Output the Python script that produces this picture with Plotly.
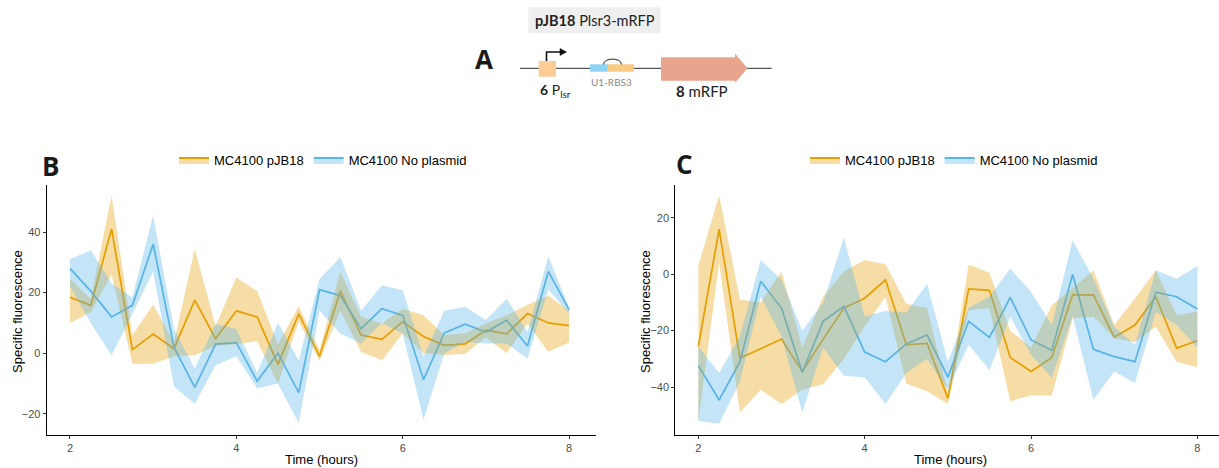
import plotly.graph_objects as go

# ---------------- data ----------------
time = [2.0, 2.25, 2.5, 2.75, 3.0, 3.25, 3.5, 3.75, 4.0, 4.25, 4.5, 4.75, 5.0,
        5.25, 5.5, 5.75, 6.0, 6.25, 6.5, 6.75, 7.0, 7.25, 7.5, 7.75, 8.0]

series_names = ["MC4100 pJB18", "MC4100 No plasmid"]

# Panel B
b_pjb18_mean = [18.5, 15.8, 41, 1.2, 6.3, 1.5, 17.5, 4.8, 14, 12, -3.7, 13, -1,
                20.5, 6, 4.6, 10.4, 5.5, 2.6, 3.1, 7.6, 6.4, 13.1, 10, 9.1]
b_pjb18_upper = [24.5, 18, 52, 6, 16, 3.5, 34.5, 9, 25, 20.5, 3, 15.5, 1,
                 27, 12, 9.8, 14.7, 12.5, 6, 6.5, 9.8, 12.5, 16, 19, 14]
b_pjb18_lower = [10, 13.5, 26, -3.5, -3.5, -1, -0.7, 2.5, 3, 4, -10, 10.5, -2.5,
                 14, 0.4, -2.3, 6.5, 0, -0.6, -0.2, 5.2, 0, 9.8, 0.5, 3.5]
b_nopl_mean = [28, 20.5, 12, 15.8, 36, 2, -11.3, 3, 3.5, -9.2, 0, -13, 21,
               19, 8.1, 14.7, 12.5, -8.7, 6.7, 9.6, 7, 10.9, 2.4, 27, 14.4]
b_nopl_upper = [31, 34, 23, 18.5, 45.5, 8, -5, 9.7, 8, -6.5, 10, -2.3, 24.5,
                31.8, 14, 22.4, 20.8, -1.2, 14, 15.3, 11, 18, 7, 32, 15]
b_nopl_lower = [22, 10, -0.7, 13, 27, -11, -16.7, -4, -1, -11.6, -10, -23, 14,
                6.5, 3.2, 10, 6.5, -22, 0, 3.7, 3.2, 3.2, -1.8, 21, 13]

# Panel C
c_pjb18_mean = [-25.6, 16, -29.8, -26.5, -23, -34.5, -23, -12, -8.5, -2, -25, -24.5, -44,
                -5.2, -5.7, -29.5, -34.5, -29.5, -7.3, -7.3, -22.3, -18, -8, -26.2, -23.6]
c_pjb18_upper = [3, 28, -9, -10, 1, -26, -8, 1, 5, 3.5, -10.5, -12, -42,
                 3.4, 0.5, -20, -26, -11, -5, 1.4, -18, -8.6, 1.4, -14.5, -13.3]
c_pjb18_lower = [-52, 4, -49, -41, -46, -41, -39, -30, -18.5, -8, -38.7, -41.5, -46,
                 -12.8, -12, -45, -43, -43, -15.7, -15, -22.7, -24, -18.6, -31, -33]
c_nopl_mean = [-32.4, -44.6, -31, -2.5, -12, -34.8, -16.7, -11.4, -27.6, -31, -24.7, -21.5, -36.5,
               -16.7, -22.4, -8.2, -23.3, -27, -0.1, -26.6, -29.2, -31, -6.4, -8, -12.3]
c_nopl_upper = [-25.6, -35, -22, 5, -2, -20, -10, 13, -15, -13, -13.6, -3.5, -31,
                -12, -8, 2, -6.3, -18, 12, -1.5, -18.6, -25, 1.4, -1.6, 2.9]
c_nopl_lower = [-52, -53, -38, -8, -22, -49, -26, -36, -36.5, -46, -35, -30, -41,
                -25, -34, -15, -28.6, -36.8, -15, -44.5, -34.5, -38.6, -13.3, -18, -26]

x_ticks = [2, 4, 6, 8]
b_y_ticks = [-20, 0, 20, 40]
c_y_ticks = [-40, -20, 0, 20]

# ---------------- style ----------------
W, H = 1219, 468
ORANGE = "#E69F00"
BLUE = "#56B4E9"
ORANGE_FILL = "rgba(230,159,0,0.35)"
BLUE_FILL = "rgba(86,180,233,0.35)"
FONT = "Liberation Sans, Arial, sans-serif"
DFONT = "Lato, Open Sans, sans-serif"


def px(x):
    return x / W


def py(y):
    return 1 - y / H


fig = go.Figure()

panels = [
    ("x", "y", "legend", [
        (b_pjb18_mean, b_pjb18_upper, b_pjb18_lower),
        (b_nopl_mean, b_nopl_upper, b_nopl_lower)]),
    ("x2", "y2", "legend2", [
        (c_pjb18_mean, c_pjb18_upper, c_pjb18_lower),
        (c_nopl_mean, c_nopl_upper, c_nopl_lower)]),
]
line_cols = [ORANGE, BLUE]
fill_cols = [ORANGE_FILL, BLUE_FILL]

for xa, ya, lg, groups in panels:
    # lines first
    for (mean, up, lo), lc in zip(groups, line_cols):
        fig.add_trace(go.Scatter(x=time, y=mean, mode="lines",
                                 line=dict(color=lc, width=1.7),
                                 xaxis=xa, yaxis=ya, showlegend=False,
                                 hoverinfo="skip"))
    # ribbons on top
    for (mean, up, lo), fc in zip(groups, fill_cols):
        fig.add_trace(go.Scatter(x=time + time[::-1], y=up + lo[::-1],
                                 mode="lines", fill="toself", fillcolor=fc,
                                 line=dict(width=0, color=fc),
                                 xaxis=xa, yaxis=ya, showlegend=False,
                                 hoverinfo="skip"))
    # legend entries
    for name, lc, fc in zip(series_names, line_cols, fill_cols):
        fig.add_trace(go.Scatter(x=[None], y=[None], mode="lines",
                                 fill="toself", fillcolor=fc,
                                 line=dict(color=lc, width=2),
                                 name=name, xaxis=xa, yaxis=ya,
                                 legend=lg, showlegend=True))

axis_common = dict(showline=True, linecolor="black", linewidth=1.1,
                   ticks="outside", ticklen=3, tickcolor="#333333", tickwidth=1,
                   showgrid=False, zeroline=False,
                   tickfont=dict(family=FONT, size=11, color="#4d4d4d"))

ydom = [py(435), py(184.5)]
fig.update_layout(
    width=W, height=H,
    margin=dict(l=0, r=0, t=0, b=0),
    paper_bgcolor="white", plot_bgcolor="white",
    showlegend=True,
    xaxis=dict(domain=[px(46.7), px(595.7)], range=[1.72, 8.32],
               tickvals=x_ticks, anchor="y", **axis_common),
    yaxis=dict(domain=ydom, range=[-27, 55.7], tickvals=b_y_ticks,
               anchor="x", **axis_common),
    xaxis2=dict(domain=[px(675.3), 1.0], range=[1.723, 8.26],
                tickvals=x_ticks, anchor="y2", **axis_common),
    yaxis2=dict(domain=ydom, range=[-57, 31.8], tickvals=c_y_ticks,
                anchor="x2", **axis_common),
    legend=dict(orientation="h", x=px(323), y=py(160), xanchor="center",
                yanchor="middle", font=dict(family=FONT, size=13, color="black"),
                bgcolor="rgba(0,0,0,0)", itemwidth=30, tracegroupgap=0),
    legend2=dict(orientation="h", x=px(954), y=py(160), xanchor="center",
                 yanchor="middle", font=dict(family=FONT, size=13, color="black"),
                 bgcolor="rgba(0,0,0,0)", itemwidth=30, tracegroupgap=0),
)

ann = []
# axis titles
for cx in [321, 951]:
    ann.append(dict(text="Time (hours)", x=px(cx), y=py(459), xref="paper", yref="paper",
                    showarrow=False, font=dict(family=FONT, size=13, color="black"),
                    xanchor="center", yanchor="middle"))
for cx in [17, 645]:
    ann.append(dict(text="Specific fluorescence", x=px(cx), y=py(312), xref="paper",
                    yref="paper", showarrow=False, textangle=-90,
                    font=dict(family=FONT, size=13, color="black"),
                    xanchor="center", yanchor="middle"))
# panel letters
for t, cx, cy in [("B", 51, 166), ("C", 684, 164), ("A", 484, 59)]:
    ann.append(dict(text="<b>%s</b>" % t, x=px(cx), y=py(cy), xref="paper", yref="paper",
                    showarrow=False, font=dict(family="Open Sans, sans-serif", size=26,
                                               color="#1a1a1a"),
                    xanchor="center", yanchor="middle"))
# diagram text
ann.append(dict(text="<b>pJB18</b> Plsr3-mRFP", x=px(594.5), y=py(20.3), xref="paper",
                yref="paper", showarrow=False,
                font=dict(family=DFONT, size=14.5, color="#222222"),
                xanchor="center", yanchor="middle"))
ann.append(dict(text="<b>6</b> P<sub>lsr</sub>", x=px(538), y=py(91), xref="paper",
                yref="paper", showarrow=False,
                font=dict(family=DFONT, size=14, color="#222222"),
                xanchor="left", yanchor="middle"))
ann.append(dict(text="U1-RBS3", x=px(611.5), y=py(82), xref="paper", yref="paper",
                showarrow=False, font=dict(family=DFONT, size=10, color="#8a8a8a"),
                xanchor="center", yanchor="middle"))
ann.append(dict(text="<b>8</b> mRFP", x=px(701.7), y=py(91.3), xref="paper", yref="paper",
                showarrow=False, font=dict(family=DFONT, size=15, color="#222222"),
                xanchor="center", yanchor="middle"))
fig.update_layout(annotations=ann)


def P(x, y):
    return "%.5f,%.5f" % (px(x), py(y))


shapes = []
# grey title box
shapes.append(dict(type="rect", xref="paper", yref="paper", x0=px(528.3), x1=px(660.7),
                   y0=py(33.3), y1=py(7.3), fillcolor="#efefef", line=dict(width=0),
                   layer="below"))
# backbone
shapes.append(dict(type="line", xref="paper", yref="paper", x0=px(520), x1=px(771.7),
                   y0=py(68.3), y1=py(68.3), line=dict(color="#555555", width=1.3)))
# promoter square
shapes.append(dict(type="rect", xref="paper", yref="paper", x0=px(538.7), x1=px(556),
                   y0=py(76.7), y1=py(61), fillcolor="#FCCB96", line=dict(width=0)))
# promoter arrow
shapes.append(dict(type="path", xref="paper", yref="paper",
                   path="M" + P(546.5, 61) + " L" + P(546.5, 52) + " L" + P(561, 52),
                   line=dict(color="#111111", width=1.6)))
shapes.append(dict(type="path", xref="paper", yref="paper",
                   path="M" + P(560, 48.5) + " L" + P(566.5, 52) + " L" + P(560, 55.5) + " Z",
                   fillcolor="#111111", line=dict(color="#111111", width=0.5)))
# RBS parts
shapes.append(dict(type="rect", xref="paper", yref="paper", x0=px(590), x1=px(608),
                   y0=py(71.7), y1=py(64.3), fillcolor="#8FD3F2", line=dict(width=0)))
shapes.append(dict(type="rect", xref="paper", yref="paper", x0=px(607), x1=px(634),
                   y0=py(71.7), y1=py(64.3), fillcolor="#F9CB82", line=dict(width=0)))
# loop
shapes.append(dict(type="path", xref="paper", yref="paper",
                   path="M" + P(603.5, 64.5) + " C" + P(603.5, 57.3) + " " + P(621.5, 57.3)
                   + " " + P(621.5, 64.5),
                   line=dict(color="#222222", width=1)))
# mRFP arrow
shapes.append(dict(type="path", xref="paper", yref="paper",
                   path="M" + P(661, 57.3) + " L" + P(735, 57.3) + " L" + P(735, 53.5)
                   + " L" + P(747.5, 68.3) + " L" + P(735, 83) + " L" + P(735, 80.7)
                   + " L" + P(661, 80.7) + " Z",
                   fillcolor="#E9A48D", line=dict(width=0)))
fig.update_layout(shapes=shapes)

fig.write_html("out.html", config={"displayModeBar": False},
               post_script="document.body.style.margin='0';document.body.style.overflow='hidden';")
